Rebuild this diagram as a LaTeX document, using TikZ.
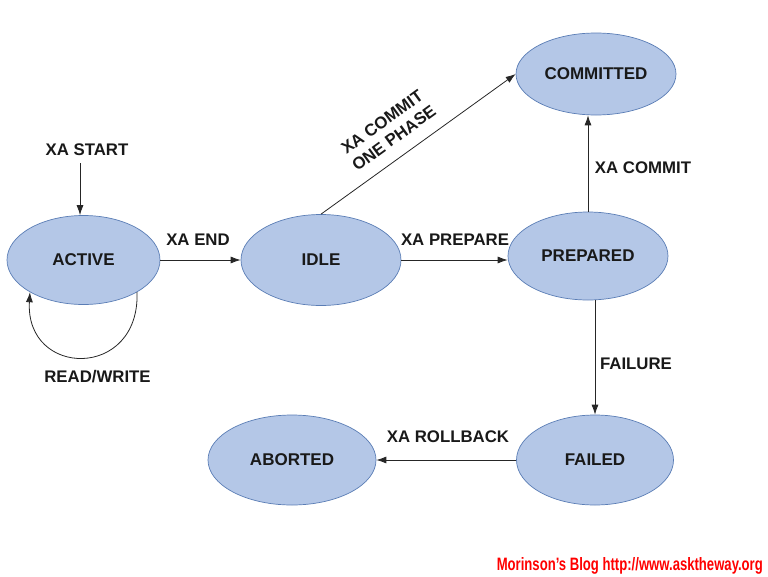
\documentclass[tikz,border=0pt]{standalone}
\usepackage{fontspec}
\setmainfont{Liberation Sans}
\usetikzlibrary{shapes.geometric,arrows.meta}
\definecolor{stfill}{HTML}{B4C7E7}
\definecolor{stdraw}{HTML}{5A7DB5}
\definecolor{wmred}{HTML}{FF0000}
\begin{document}
\begin{tikzpicture}[x=1pt,y=-1pt,
  state/.style={ellipse,draw=stdraw,fill=stfill,line width=0.7pt,inner sep=0pt,
    font=\fontsize{17}{19}\selectfont\bfseries,text=black!90},
  lbl/.style={font=\fontsize{16.8}{19}\selectfont\bfseries,text=black!90,inner sep=0pt},
  arr/.style={draw=black!85,line width=0.8pt,-{Latex[length=10pt,width=7pt]}}]
\useasboundingbox (0,0) rectangle (768,576);
% states
\node[state,minimum width=153pt,minimum height=89pt] (active) at (83.5,260) {ACTIVE};
\node[state,minimum width=160pt,minimum height=91pt] (idle) at (321,260) {IDLE};
\node[state,minimum width=160pt,minimum height=88pt] (prepared) at (588,256) {PREPARED};
\node[state,minimum width=160pt,minimum height=82pt] (committed) at (596,74) {COMMITTED};
\node[state,minimum width=157pt,minimum height=90pt] (failed) at (595,460) {FAILED};
\node[state,minimum width=168pt,minimum height=90pt] (aborted) at (292,460) {ABORTED};
% labels
\node[lbl] (lstart) at (87,150) {XA START};
\node[lbl] (lend) at (198,240) {XA END};
\node[lbl] (lprep) at (455,240) {XA PREPARE};
\node[lbl] (lcommit) at (643,168) {XA COMMIT};
\node[lbl] (lfail) at (636,364) {FAILURE};
\node[lbl] (lroll) at (448,437) {XA ROLLBACK};
\node[lbl] (lrw) at (97.5,377) {READ/WRITE};
\node[lbl,rotate=36,align=center,font=\fontsize{16.8}{20}\selectfont\bfseries] (lone) at (388,130) {XA COMMIT\\ONE PHASE};
% connectors
\coordinate (s0) at (80,163);
\draw[arr] (s0) -- (s0 |- active.north);
\draw[arr] (active.east) -- (idle.west);
\draw[arr] (idle.east) -- (idle.east -| prepared.west);
\draw[arr] (idle.north) -- (committed.west);
\draw[arr] (prepared.north) -- (prepared.north |- committed.south);
\draw[arr] (failed.north |- prepared.south) -- (failed.north);
\draw[arr] (failed.west) -- (aborted.east);
\draw[arr] (active.-31) .. controls (140,380) and (25,378) .. (active.-149);
% watermark
\node[anchor=south east,inner sep=0pt,text=wmred] (wm) at (763,574)
  {\resizebox{266pt}{13pt}{\bfseries Morinson's Blog http://www.asktheway.org}};
\end{tikzpicture}
\end{document}
